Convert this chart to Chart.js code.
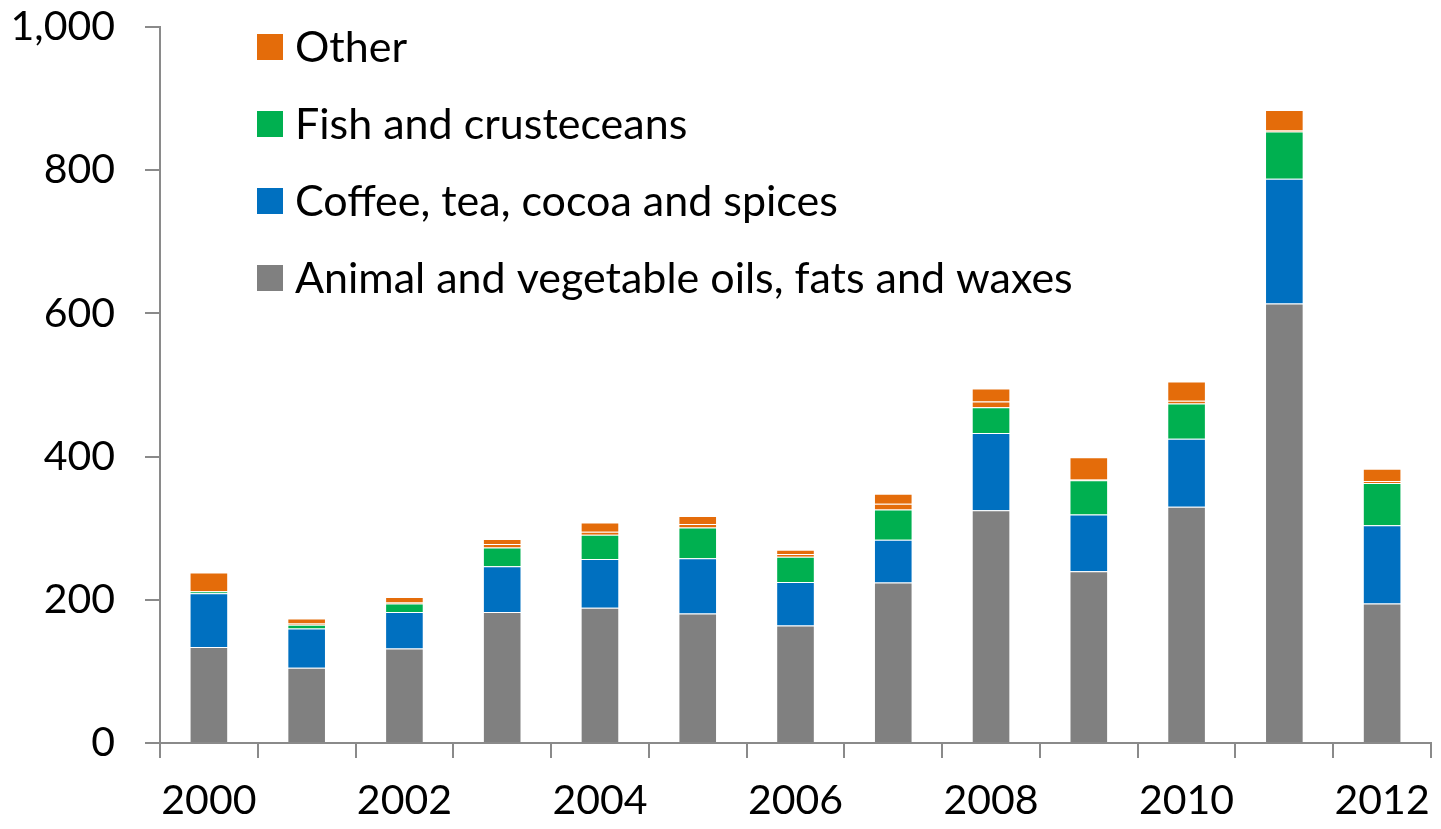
<!DOCTYPE html>
<html>
<head>
<meta charset="utf-8">
<title>Imports by product group</title>
<script src="https://cdn.jsdelivr.net/npm/chart.js@4.4.1/dist/chart.umd.min.js"></script>
<style>
  html, body { margin: 0; padding: 0; background: #fff; }
  #wrap { position: relative; width: 1441px; height: 829px; }
</style>
</head>
<body>
<div id="wrap"><canvas id="chart"></canvas></div>
<script>
'use strict';

// data
var years = ['2000', '2001', '2002', '2003', '2004', '2005', '2006', '2007', '2008', '2009', '2010', '2011', '2012'];
var animalOils = [134, 105, 132, 183, 189, 181, 164, 224, 325, 240, 330, 614, 195];
var coffeeTea = [75, 55, 51, 64, 68, 77, 61, 60, 108, 79, 95, 174, 109];
var fish = [3, 5, 12, 26, 34, 43, 35, 42, 36, 48, 49, 66, 59];
var otherMinor = [0, 2, 2, 5, 4, 5, 4, 8, 8, 1, 4, 2, 3];
var other = [26, 7, 7, 7, 13, 11, 6, 14, 18, 31, 27, 28, 17];
var yTicks = [0, 200, 400, 600, 800, 1000];

var FONT = 'Lato';
var AXIS = '#8a8a8a';

var makeSet = function(label, data, color, inLegend){
  return {
    label: label,
    data: data,
    backgroundColor: color,
    borderColor: 'rgba(255,255,255,0.18)',
    borderWidth: 1,
    barPercentage: 0.395,
    categoryPercentage: 1,
    inLegend: inLegend
  };
};

//
//  legend drawn inside the plot, top to bottom = top of stack first
//
var insideLegend = {
  id: 'insideLegend',
  afterDraw: function(chart){
    var ctx = chart.ctx;
    var sets = chart.data.datasets.filter(function(d){ return d.inLegend; }).reverse();
    ctx.save();
    ctx.font = '43px ' + FONT;
    ctx.textBaseline = 'middle';
    ctx.textAlign = 'left';
    sets.forEach(function(set, i){
      var top = 34 + i * 77;
      ctx.fillStyle = set.backgroundColor;
      ctx.fillRect(257, top, 26, 26);
      ctx.fillStyle = '#000';
      ctx.fillText(set.label, 295, top + 14);
    });
    ctx.restore();
  }
};

var createChart = function(){
  var canvas = document.getElementById('chart');
  return new Chart(canvas, {
    type: 'bar',
    data: {
      labels: years,
      datasets: [
        makeSet('Animal and vegetable oils, fats and waxes', animalOils, '#808080', true),
        makeSet('Coffee, tea, cocoa and spices', coffeeTea, '#0070c0', true),
        makeSet('Fish and crusteceans', fish, '#00b050', true),
        makeSet('Other (minor)', otherMinor, '#e46c0a', false),
        makeSet('Other', other, '#e46c0a', true)
      ]
    },
    options: {
      responsive: true,
      maintainAspectRatio: false,
      animation: false,
      devicePixelRatio: 1,
      layout: { padding: { left: 0, right: 0, top: 0, bottom: 0 } },
      plugins: {
        legend: { display: false },
        tooltip: { enabled: false }
      },
      scales: {
        x: {
          stacked: true,
          offset: true,
          afterFit: function(scale){
            scale.height = 86;
            scale.paddingLeft = 0;
            scale.paddingRight = 10;
          },
          grid: {
            offset: true,
            drawOnChartArea: false,
            drawTicks: true,
            tickLength: 15,
            tickColor: AXIS,
            lineWidth: 2
          },
          border: { display: true, color: AXIS, width: 2 },
          ticks: {
            autoSkip: false,
            maxRotation: 0,
            padding: 18,
            color: '#000',
            font: { family: FONT, size: 41 },
            callback: function(val, idx){ return idx % 2 === 0 ? years[idx] : ''; }
          }
        },
        y: {
          stacked: true,
          min: 0,
          max: 1000,
          afterFit: function(scale){
            scale.width = 160;
            scale.paddingTop = 27;
            scale.paddingBottom = 0;
          },
          afterBuildTicks: function(scale){
            scale.ticks = yTicks.map(function(v){ return { value: v }; });
          },
          grid: {
            drawOnChartArea: false,
            drawTicks: true,
            tickLength: 15,
            tickColor: AXIS,
            lineWidth: 2
          },
          border: { display: true, color: AXIS, width: 2 },
          ticks: {
            padding: 30,
            color: '#000',
            font: { family: FONT, size: 41 },
            callback: function(v){ return v.toLocaleString('en-US'); }
          }
        }
      }
    },
    plugins: [insideLegend]
  });
};

!function(){
  createChart();
}();
</script>
</body>
</html>
